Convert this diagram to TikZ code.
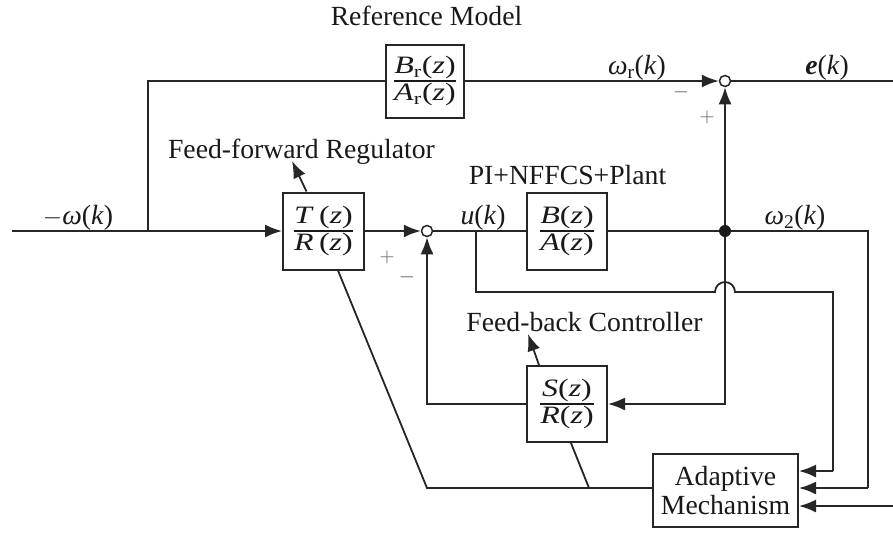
\documentclass[tikz,border=0pt]{standalone}
\usepackage{fontspec}
\usepackage{amsmath}
\usepackage{graphicx}
\setmainfont{Liberation Serif}
\usetikzlibrary{arrows.meta,calc}
\newcommand\mi[1]{\textit{#1}}
\newcommand\fracbox[2]{{\fontsize{25}{28}\selectfont\scalebox{1.28}[1]{$\genfrac{}{}{1.3pt}{1}{\hbox{#1}}{\hbox{#2}}$}}}
\begin{document}
\begin{tikzpicture}[x=1pt,y=-1pt,
  every node/.style={font=\fontsize{27.7}{32}\selectfont, text=black!90},
  blk/.style={draw=black!85, line width=2pt, inner sep=0pt, fill=white},
  ln/.style={line width=1.8pt, draw=black!85},
  arr/.style={ln, -{Latex[length=17pt,width=13pt]}},
  sumc/.style={circle, draw=black!85, line width=1.5pt, fill=white, minimum size=11pt, inner sep=0pt},
  lbl/.style={inner sep=0pt},
  sgn/.style={inner sep=0pt, font=\fontsize{22}{24}\selectfont, text=black!65}]
\useasboundingbox (0,0) rectangle (893,533);

% blocks
\node[blk, minimum width=78pt, minimum height=73pt] (ref) at (425,81)
  {\fracbox{\mi{B}\textsubscript{r}(\mi{z})}{\mi{A}\textsubscript{r}(\mi{z})}};
\node[blk, minimum width=81pt, minimum height=77pt] (tr) at (323.5,231)
  {\fracbox{\mi{T}\,(\mi{z})}{\mi{R}\,(\mi{z})}};
\node[blk, minimum width=80pt, minimum height=77pt] (ba) at (567,231)
  {\fracbox{\mi{B}(\mi{z})}{\mi{A}(\mi{z})}};
\node[blk, minimum width=80pt, minimum height=76pt] (sr) at (567,404)
  {\fracbox{\mi{S}(\mi{z})}{\mi{R}(\mi{z})}};
\node[blk, minimum width=145pt, minimum height=73pt, align=center] (adm) at (725.5,490.5)
  {Adaptive\\[-3pt]Mechanism};

% summing junctions and branch point
\node[sumc] (s1) at (427,231) {};
\node[sumc] (s2) at (725,81) {};
\node[circle, fill=black!90, inner sep=0pt, minimum size=12pt] (jn) at (725,231) {};

% free ends
\coordinate (in) at (12,231);
\coordinate (br) at (148,231);
\coordinate (out) at (893,81);
\coordinate (ext) at (893,506);
\coordinate (tap) at (476,231);
\coordinate (ffa) at (292,161);
\coordinate (fba) at (528,334);

% texts
\node[lbl] (tRM) at (426.5,16) {Reference Model};
\node[lbl] (tw) at (78,218) {$-$\mi{ω}(\mi{k})};
\node[lbl] (tFF) at (301.5,152) {Feed-forward Regulator};
\node[lbl] (tPI) at (567.5,175) {PI+NFFCS+Plant};
\node[lbl] (tFB) at (584.5,322) {Feed-back Controller};
\node[lbl] (tu) at (483,218) {\mi{u}(\mi{k})};
\node[lbl] (twr) at (637,68) {\mi{ω}\textsubscript{r}(\mi{k})};
\node[lbl] (te) at (827,68) {\textbf{\mi{e}}(\mi{k})};
\node[lbl] (tw2) at (795,218) {\mi{ω}\textsubscript{2}(\mi{k})};
\node[sgn] (p1) at (387,257) {$+$};
\node[sgn] (m1) at (407,277) {$-$};
\node[sgn] (m2) at (681,92) {$-$};
\node[sgn] (p2) at (707,117) {$+$};

% connectors
\draw[arr] (in) -- (tr.west);
\draw[ln] (br) |- (ref.west);
\draw[arr] (ref.east) -- (s2.west);
\draw[ln] (s2.east) -- (out);
\draw[arr] (tr.east) -- (s1.west);
\draw[ln] (s1.east) -- (ba.west);
\draw[ln] (ba.east) -- (jn);
\draw[arr] (jn) -- (s2.south);
\draw[arr] (jn) |- (sr.east);
\draw[arr] (sr.west) -| (s1.south);
\draw[ln] (jn) -- (868,231) -- (868,488);
\draw[arr] (868,488) -- (adm.east |- 0,488);
\draw[ln] (tap) -- (476,292) -- (715,292) arc[start angle=180, end angle=0, radius=10pt] -- (833,292) -- (833,471);
\draw[arr] (833,471) -- (adm.east |- 0,471);
\draw[arr] (ext) -- (adm.east |- 0,506);
\draw[ln] (adm.west |- 0,488) -- (427,488) -- ($(tr.south)+(14.5,0)$);
\draw[ln] (589,488) -- ($(sr.south)+(4,0)$);
\draw[arr] ($(tr.north)+(-17,0)$) -- (ffa);
\draw[arr] ($(sr.north)+(-28,0)$) -- (fba);
\end{tikzpicture}
\end{document}
